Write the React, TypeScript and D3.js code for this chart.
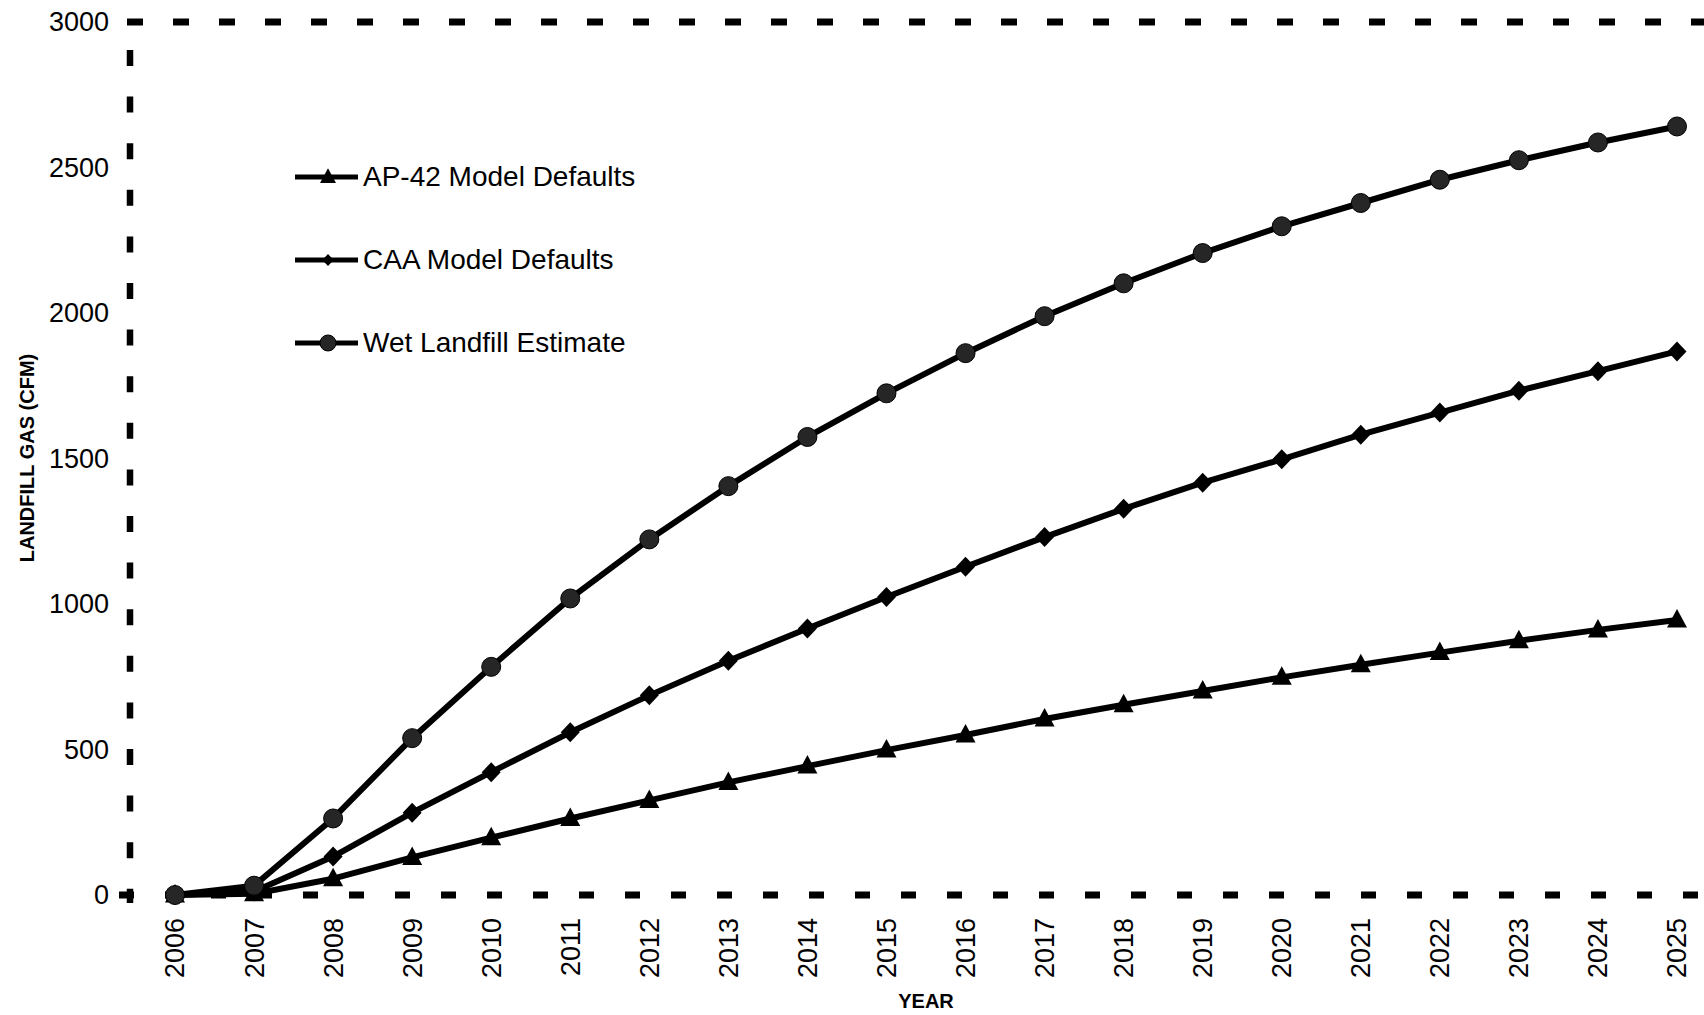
import React from "react";
import * as d3 from "d3";

const years = [2006, 2007, 2008, 2009, 2010, 2011, 2012, 2013, 2014, 2015, 2016, 2017, 2018, 2019, 2020, 2021, 2022, 2023, 2024, 2025];

const ap42 = [0, 4, 56, 129, 197, 263, 325, 387, 443, 498, 550, 605, 654, 701, 748, 791, 833, 874, 911, 945];
const caa = [0, 12, 132, 283, 422, 559, 686, 805, 916, 1024, 1128, 1230, 1327, 1417, 1497, 1582, 1658, 1733, 1800, 1868];
const wet = [0, 32, 263, 539, 784, 1019, 1222, 1405, 1574, 1724, 1862, 1989, 2102, 2206, 2298, 2378, 2458, 2525, 2586, 2641];

const yTicks = [0, 500, 1000, 1500, 2000, 2500, 3000];
const legendLabels = ["AP-42 Model Defaults", "CAA Model Defaults", "Wet Landfill Estimate"];
const markerKinds = ["triangle", "diamond", "circle"];

const W = 1704;
const H = 1015;
const FONT = "'Liberation Sans', Arial, Helvetica, sans-serif";

function markerPath(kind: string, s: number) {
  if (kind === "triangle") {
    return `M0,${-1.1 * s}L${s},${0.75 * s}L${-s},${0.75 * s}Z`;
  }
  if (kind === "diamond") {
    return `M0,${-s}L${0.95 * s},0L0,${s}L${-0.95 * s},0Z`;
  }
  return "";
}

function Marker({ kind, x, y, s }: { kind: string; x: number; y: number; s: number }) {
  if (kind === "circle") {
    return <circle cx={x} cy={y} r={s} fill="#262626" stroke="#000" strokeWidth={1} />;
  }
  return <path d={markerPath(kind, s)} transform={`translate(${x},${y})`} fill="#000" />;
}

export default function App() {
  const x = d3.scaleLinear().domain([2006, 2025]).range([175, 1677]);
  const y = d3.scaleLinear().domain([0, 3000]).range([895, 22]);

  const series = [ap42, caa, wet];
  const line = d3
    .line<number>()
    .x((_, i) => x(years[i]))
    .y((d) => y(d));

  const legendY = [176, 259, 342];

  return (
    <svg
      width={W}
      height={H}
      style={{ position: "absolute", left: 0, top: 0, display: "block", background: "#fff" }}
    >
      <rect x={0} y={0} width={W} height={H} fill="#fff" />
      {/* dashed plot border */}
      <line x1={127} x2={W} y1={y(3000)} y2={y(3000)} stroke="#000" strokeWidth={7} strokeDasharray="16 30" />
      <line x1={130} x2={130} y1={50} y2={y(0) + 8} stroke="#000" strokeWidth={6.5} strokeDasharray="16 30.6" />
      <line x1={119} x2={W} y1={y(0)} y2={y(0)} stroke="#000" strokeWidth={7} strokeDasharray="15 31" />

      {/* y tick labels */}
      {yTicks.map((t) => (
        <text
          key={t}
          x={109}
          y={y(t)}
          dy="0.35em"
          textAnchor="end"
          fontFamily={FONT}
          fontSize={27}
          fill="#000"
        >
          {t}
        </text>
      ))}

      {/* x tick labels */}
      {years.map((yr) => (
        <text
          key={yr}
          transform={`translate(${x(yr)},918) rotate(-90)`}
          dy="0.35em"
          textAnchor="end"
          fontFamily={FONT}
          fontSize={27}
          fill="#000"
        >
          {yr}
        </text>
      ))}

      {/* axis titles */}
      <text
        x={x(2015.5)}
        y={1008}
        textAnchor="middle"
        fontFamily={FONT}
        fontWeight="bold"
        fontSize={20}
        fill="#000"
      >
        YEAR
      </text>
      <text
        transform="translate(27,458) rotate(-90)"
        dy="0.35em"
        textAnchor="middle"
        fontFamily={FONT}
        fontWeight="bold"
        fontSize={20}
        fill="#000"
      >
        LANDFILL GAS (CFM)
      </text>

      {/* series */}
      {series.map((vals, si) => (
        <g key={si}>
          <path d={line(vals) || ""} fill="none" stroke="#000" strokeWidth={6} strokeLinejoin="round" />
          {vals.map((v, i) => (
            <Marker key={i} kind={markerKinds[si]} x={x(years[i])} y={y(v)} s={si === 2 ? 9.5 : 10} />
          ))}
        </g>
      ))}

      {/* legend */}
      {legendLabels.map((lab, i) => (
        <g key={lab}>
          <line x1={295} x2={358} y1={legendY[i] + 1} y2={legendY[i] + 1} stroke="#000" strokeWidth={5} />
          <Marker kind={markerKinds[i]} x={328} y={legendY[i] + 1} s={i === 1 ? 6 : 8} />
          <text
            x={363}
            y={legendY[i]}
            dy="0.35em"
            fontFamily={FONT}
            fontSize={28}
            fill="#000"
          >
            {lab}
          </text>
        </g>
      ))}
    </svg>
  );
}
